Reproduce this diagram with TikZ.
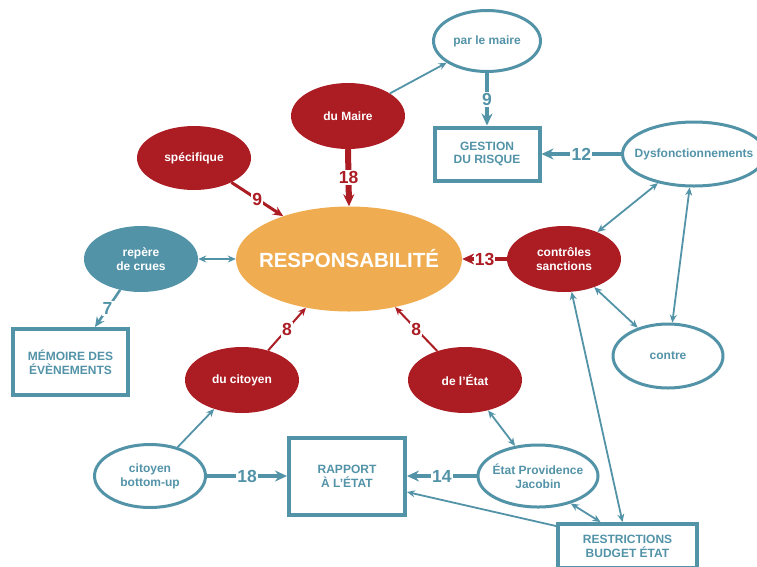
\documentclass[tikz,border=0pt]{standalone}
\usepackage{fontspec}
\setmainfont{Liberation Sans}
\usetikzlibrary{shapes.geometric,arrows.meta}
\definecolor{tl}{HTML}{5393A8}
\definecolor{rd}{HTML}{AB1C23}
\definecolor{og}{HTML}{F0AC50}
\tikzset{
  tS/.tip={Stealth[length=8pt,width=7pt]},
  tM/.tip={Stealth[length=10pt,width=9pt]},
  tB/.tip={Stealth[length=12pt,width=11pt]},
  fnt/.style={font=\bfseries\fontsize{12}{13.8}\selectfont, align=center},
  ell/.style={ellipse, inner sep=0pt, minimum width=114, minimum height=66},
  redell/.style={ell, fill=rd},
  tealell/.style={ell, fill=tl},
  whiteell/.style={ell, draw=tl, line width=3pt, fill=white, minimum width=111, minimum height=63},
  boxnode/.style={rectangle, draw=tl, line width=4pt, fill=white, inner sep=0pt, fnt, text=tl},
  wlab/.style={label={[fnt,text=white]center:#1}},
  tlab/.style={label={[fnt,text=tl]center:#1}},
  nl/.style={font=\bfseries\fontsize{17.5}{17.5}\selectfont, fill=white, inner sep=1.2pt},
  tln/.style={draw=tl, line width=1.8pt},
  tlk/.style={draw=tl, line width=4.5pt},
}
\begin{document}
\begin{tikzpicture}[x=1pt,y=-1pt]
\useasboundingbox (0,0) rectangle (757,566);
% nodes
\node[ell, fill=og, minimum width=226, minimum height=105,
  label={[font=\bfseries\fontsize{20.5}{24}\selectfont,text=white]center:RESPONSABILITÉ}] (resp) at (349,259) {};
\node[redell, wlab={du Maire}] (maire) at (348,116) {};
\node[redell, minimum height=64, wlab={spécifique}] (spec) at (194,158) {};
\node[tealell, wlab={repère\\de crues}] (rep) at (141,259) {};
\node[whiteell, minimum width=107, minimum height=61, tlab={par le maire}] (pm) at (487,41) {};
\node[whiteell, minimum width=143, minimum height=64, tlab={Dysfonctionnements}] (dys) at (694,154) {};
\node[redell, wlab={contrôles\\sanctions}] (ctrl) at (564,259) {};
\node[whiteell, minimum width=110, minimum height=64, tlab={contre}] (contre) at (668,356) {};
\node[redell, wlab={du citoyen}] (cit) at (242,380) {};
\node[redell, wlab={de l'État}] (etat) at (465,380) {};
\node[whiteell, tlab={citoyen\\bottom-up}] (cbu) at (150,476) {};
\node[whiteell, minimum width=120, minimum height=62, tlab={État Providence\\Jacobin}] (epj) at (538,476) {};
\node[boxnode, minimum width=105, minimum height=53] (gest) at (487,154) {GESTION\\DU RISQUE};
\node[boxnode, minimum width=115, minimum height=66] (mem) at (70.5,362) {MÉMOIRE DES\\ÉVÈNEMENTS};
\node[boxnode, minimum width=116, minimum height=77] (rap) at (347,476) {RAPPORT\\À L'ÉTAT};
\node[boxnode, minimum width=139, minimum height=44,
  label={[fnt,text=tl]center:{RESTRICTIONS\\BUDGET ÉTAT}}] (restr) at (627.5,546) {};
% connectors
\draw[tln,-tS] (maire) -- (pm);
\draw[tlk,-tB] (pm.south) -- node[nl,text=tl]{9} (gest.north);
\draw[tlk,-tB] (dys.west) -- node[nl,text=tl]{12} (gest.east);
\draw[tln,tS-tS] (dys) -- (ctrl);
\draw[tln,tS-tS] (dys) -- (contre);
\draw[tln,tS-tS] (ctrl) -- (contre);
\draw[draw=rd, line width=4.5pt,-tB] (ctrl.west) -- node[nl,text=rd]{13} (resp.east);
\draw[draw=rd, line width=6pt,-tB] (maire.south) -- node[nl,text=rd]{18} (resp.north);
\draw[draw=rd, line width=3pt,-tM] (spec) -- node[nl,text=rd]{9} (resp);
\draw[tln,tS-tS] (rep.east) -- (resp.west);
\draw[draw=tl, line width=2.5pt,-tM] (rep.-124) -- node[nl,text=tl]{7} ([xshift=24.5pt]mem.north);
\draw[draw=rd, line width=2pt,-tS] (cit) -- node[nl,text=rd]{8} (resp);
\draw[draw=rd, line width=2pt,-tS] (etat) -- node[nl,text=rd]{8} (resp);
\draw[tln,tS-tS] (etat) -- (epj);
\draw[tln,-tS] (cbu) -- (cit);
\draw[tlk,-tB] (cbu.east) -- node[nl,text=tl]{18} (rap.west);
\draw[tlk,-tB] (epj.west) -- node[nl,text=tl]{14} (rap.east);
\draw[tln,-tS] ([yshift=-4pt]restr.north west) -- ([yshift=-16pt]rap.east);
\draw[tln,tS-tS] ([xshift=-27pt]restr.north) -- (epj.-40);
\draw[tln,tS-tS] ([xshift=-5pt]restr.north) -- (ctrl.-77);
\end{tikzpicture}
\end{document}
